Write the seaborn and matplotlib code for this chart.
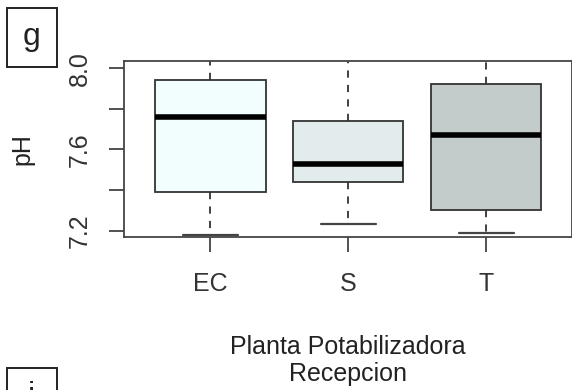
import numpy as np
import pandas as pd
import matplotlib
matplotlib.use("Agg")
import matplotlib.pyplot as plt
from matplotlib.patches import Rectangle
import seaborn as sns

# pH summary per treatment plant (reception point)
plantas = ["EC", "S", "T"]
ph_min = [7.18, 7.23, 7.19]
ph_q1 = [7.39, 7.44, 7.30]
ph_mediana = [7.76, 7.53, 7.67]
ph_q3 = [7.94, 7.74, 7.92]
ph_max = [8.05, 8.05, 8.05]
colores = ["#F0FFFF", "#E0EEEE", "#C1CDCD"]
yticks = [7.2, 7.4, 7.6, 7.8, 8.0]
yticklabels = ["7.2", "", "7.6", "", "8.0"]

# five-number samples per plant -> long-form table
filas = []
for i, p in enumerate(plantas):
    for v in (ph_min[i], ph_q1[i], ph_mediana[i], ph_q3[i], ph_max[i]):
        filas.append({"planta": p, "pH": v})
df = pd.DataFrame(filas)

sns.set_style("ticks")
plt.rcParams["font.family"] = ["Liberation Sans", "DejaVu Sans"]
plt.rcParams["text.color"] = "#222222"
plt.rcParams["axes.labelcolor"] = "#222222"
plt.rcParams["xtick.color"] = "#333333"
plt.rcParams["ytick.color"] = "#333333"

W, H = 572, 390
fig = plt.figure(figsize=(W / 100, H / 100), dpi=100)
ax = fig.add_axes([124 / W, 1 - 237 / H, (571.5 - 124) / W, (237 - 60.7) / H])

sns.boxplot(
    data=df, x="planta", y="pH", hue="planta", palette=colores, legend=False,
    order=plantas, hue_order=plantas, width=0.8, whis=np.inf,
    linecolor="#333333", linewidth=1.3, ax=ax,
    medianprops={"color": "black", "linewidth": 4.0},
    whiskerprops={"color": "#333333", "linewidth": 1.3, "linestyle": (0, (4, 4))},
    capprops={"color": "#444444", "linewidth": 1.6},
)

ax.set_xlim(-0.627, 2.619)
ax.set_ylim(7.168, 8.037)
ax.set_yticks(yticks)
ax.set_yticklabels(yticklabels, rotation=90, va="center")
for s in ax.spines.values():
    s.set_visible(True)
    s.set_color("#444444")
    s.set_linewidth(1.3)
ax.tick_params(axis="both", length=11, width=1.2, labelsize=18, color="#333333")
ax.tick_params(axis="x", pad=14.5)
ax.tick_params(axis="y", pad=12)
ax.set_ylabel("pH", fontsize=18, labelpad=24)
ax.set_xlabel("Planta Potabilizadora\nRecepcion", fontsize=18, labelpad=28,
              linespacing=1.15)

# panel letters in framed boxes
for letra, top in (("g", 8.3), ("i", 367.7)):
    fig.patches.append(Rectangle((6.5 / W, 1 - (top + 58.4) / H), 50 / W, 58.4 / H,
                                 transform=fig.transFigure, fill=False,
                                 edgecolor="#222222", linewidth=1.4))
    fig.text(31.5 / W, 1 - (top + 36.7) / H, letra, fontsize=23,
             ha="center", va="baseline", color="#222222")

fig.savefig("out.png", dpi=100)
